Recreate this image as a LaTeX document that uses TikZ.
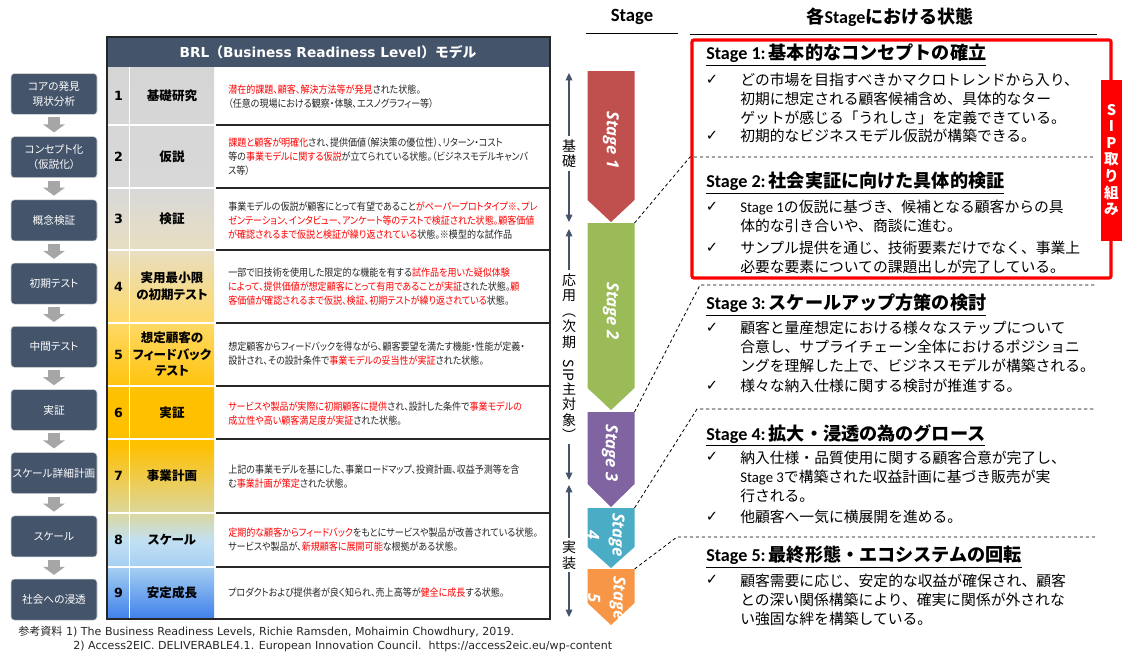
\documentclass[tikz,border=0pt]{standalone}
\usepackage{fontspec}
\usetikzlibrary{arrows.meta}
\newfontfamily\jp{Noto Sans CJK JP}
\newfontfamily\jpp{Noto Sans CJK JP}[RawFeature=+palt]
\newfontfamily\jpn{Noto Sans CJK JP}[RawFeature=+palt, FakeStretch=0.88]
\newfontfamily\calib{Carlito}
\newfontfamily\opens{Open Sans}
\newfontfamily\dejavu{DejaVu Sans}
\definecolor{slate}{HTML}{44546A}
\definecolor{arrowgray}{HTML}{A6A6A6}
\definecolor{stgA}{HTML}{C0504D}
\definecolor{stgB}{HTML}{9BBB59}
\definecolor{stgC}{HTML}{8064A2}
\definecolor{stgD}{HTML}{4BACC6}
\definecolor{stgE}{HTML}{F79646}
\definecolor{sipred}{HTML}{FF0000}
\definecolor{txt}{HTML}{262626}
\definecolor{gr1}{HTML}{D5D5D5}
\definecolor{gr2}{HTML}{D8D8D8}
\definecolor{gr3}{HTML}{E8DEC2}
\definecolor{gr4}{HTML}{FFD966}
\definecolor{gr5}{HTML}{FFC000}
\definecolor{gr6}{HTML}{DCD79E}
\definecolor{gr7}{HTML}{C2E0F2}
\definecolor{gr8}{HTML}{A6CFF2}
\definecolor{gr9}{HTML}{3F80EA}
\newcommand\rd[1]{\textcolor{sipred}{#1}}

\tikzset{
  phasebox/.style={draw=gray!35, fill=slate, rounded corners=2.5pt, text=white,
    minimum width=64.5pt, minimum height=30.75pt, align=center, inner sep=1pt,
    font=\jpp\fontsize{8}{11}\selectfont},
  grayarrow/.style={line width=9pt, draw=arrowgray,
    -{Triangle[width=16pt,length=6pt]}, shorten <=2pt, shorten >=3pt},
  numlbl/.style={font=\dejavu\bfseries\fontsize{9.5}{11}\selectfont, inner sep=0},
  namelbl/.style={font=\jpp\bfseries\fontsize{9.4}{12.4}\selectfont, align=center, inner sep=0},
  desc/.style={anchor=west, align=left, inner sep=0, text=txt,
    font=\jpn\fontsize{7.7}{10.5}\selectfont},
  stagetxt/.style={text=white, rotate=-90, align=center, inner sep=0,
    font=\opens\bfseries\itshape\fontsize{12.5}{19}\selectfont},
  phaselbl/.style={align=center, inner sep=2pt, font=\jp\fontsize{10.5}{11.6}\selectfont},
  bracketarr/.style={draw=slate, line width=0.9pt, -{Triangle[width=5pt,length=5.5pt]}},
  sepline/.style={dashed, dash pattern=on 2.5pt off 2pt, line width=0.6pt},
  stagehead/.style={anchor=west, inner sep=0, font=\fontsize{13.6}{16}\selectfont},
  chk/.style={inner sep=0, font=\dejavu\fontsize{11}{12}\selectfont},
  bul/.style={anchor=west, align=left, inner sep=0, font=\jp\fontsize{11.1}{14.25}\selectfont},
  refline/.style={anchor=west, inner sep=0, text=txt, font=\dejavu\fontsize{8.3}{10}\selectfont}
}

\begin{document}
\begin{tikzpicture}[x=0.75pt,y=-0.75pt]
  \useasboundingbox (0,0) rectangle (1124,657);
  \fill[white] (0,0) rectangle (1124,657);

  % left phases
  \foreach \i/\t in {1/{コアの発見\\現状分析}, 2/{コンセプト化\\（仮説化）}, 3/概念検証,
      4/初期テスト, 5/中間テスト, 6/実証, 7/スケール詳細計画, 8/スケール, 9/社会への浸透} {
    \node[phasebox] (p\i) at (54,{94+63.2*(\i-1)}) {\t};
  }
  \foreach \i [count=\j from 2] in {1,...,8} {
    \draw[grayarrow] (p\i) -- (p\j);
  }

  % BRL table
  \fill[slate] (107,37) rectangle (550,67);
  \node[text=white, font=\dejavu\bfseries\fontsize{10.3}{12}\selectfont] (brl) at (328,52)
    {BRL{\jp （}Business Readiness Level{\jp ）モデル}};
  \foreach \ya/\yb/\ca/\cb in {67/188/gr1/gr2, 188/250/gr2/gr3, 250/323/gr3/gr4,
      323/395/gr4/gr5, 395/445/gr5/gr5, 445/513/gr5/gr6, 513/540/gr6/gr7,
      540/567/gr7/gr8, 567/619/gr8/gr9} {
    \shade[top color=\ca, bottom color=\cb] (108,\ya) rectangle (214,\yb);
  }
  \draw[white, line width=1.2pt] (129.5,67) -- (129.5,619);
  \foreach \y in {125,188,250,323,386,439,513,567} {
    \draw[white, line width=1.2pt] (108,\y) -- (214,\y);
    \draw[black!85, line width=0.9pt] (216,\y) -- (550,\y);
  }
  \draw[black!85, line width=0.9pt] (107,37) rectangle (550,619);

  \foreach \n/\yc/\nm in {1/96/基礎研究, 2/156.5/仮説, 3/219/検証, 4/286.5/{実用最小限\\の初期テスト},
      5/354.5/{想定顧客の\\フィードバック\\テスト}, 6/412.5/実証, 7/476/事業計画, 8/540/スケール, 9/593/安定成長} {
    \node[numlbl] (n\n) at (118.5,\yc) {\n};
    \node[namelbl] (m\n) at (172,\yc) {\nm};
  }

  \node[desc] (d1) at (228,96.5) {\rd{潜在的課題、顧客、解決方法等が発見}された状態。\\（任意の現場における観察・体験、エスノグラフィー等）};
  \node[desc] (d2) at (228,157) {\rd{課題と顧客が明確化}され、提供価値（解決策の優位性）、リターン・コスト\\等の\rd{事業モデルに関する仮説}が立てられている状態。（ビジネスモデルキャンバ\\ス等）};
  \node[desc] (d3) at (228,221) {事業モデルの仮説が顧客にとって有望であること\rd{がペーパープロトタイプ※、プレ}\\\rd{ゼンテーション、インタビュー、アンケート等のテストで検証された状態。顧客価値}\\\rd{が確認されるまで仮説と検証が繰り返されている}状態。※模型的な試作品};
  \node[desc] (d4) at (228,287) {一部で旧技術を使用した限定的な機能を有する\rd{試作品を用いた疑似体験}\\\rd{によって、提供価値が想定顧客にとって有用であることが実証}された状態。\rd{顧}\\\rd{客価値が確認されるまで仮説、検証、初期テストが繰り返されている}状態。};
  \node[desc] (d5) at (228,354) {想定顧客からフィードバックを得ながら、顧客要望を満たす機能・性能が定義・\\設計され、その設計条件で\rd{事業モデルの妥当性が実証}された状態。};
  \node[desc] (d6) at (228,414) {\rd{サービスや製品が実際に初期顧客に提供}され、設計した条件で\rd{事業モデルの}\\\rd{成立性や高い顧客満足度が実証}された状態。};
  \node[desc] (d7) at (228,477) {上記の事業モデルを基にした、事業ロードマップ、投資計画、収益予測等を含\\む\rd{事業計画が策定}された状態。};
  \node[desc] (d8) at (228,540) {\rd{定期的な顧客からフィードバック}をもとにサービスや製品が改善されている状態。\\サービスや製品が、\rd{新規顧客に展開可能}な根拠がある状態。};
  \node[desc] (d9) at (228,593) {プロダクトおよび提供者が良く知られ、売上高等が\rd{健全に成長}する状態。};

  % phase brackets
  \coordinate (kisoT) at (569,73);   \coordinate (kisoB) at (569,222);
  \coordinate (ouyoT) at (569,229);  \coordinate (ouyoB) at (569,480);
  \coordinate (jissT) at (569,485);  \coordinate (jissB) at (569,617);
  \node[phaselbl] (kiso) at (569,153.5) {基\\礎};
  \node[phaselbl] (ouyo) at (569,357) {応\\用\\︵\\次\\期\\[-2pt]\rotatebox{-90}{SIP}\\主\\対\\象\\︶};
  \node[phaselbl] (jiss) at (569,555) {実\\装};
  \foreach \l in {kiso,ouyo,jiss} {
    \draw[bracketarr] (\l) -- (\l T);
    \draw[bracketarr] (\l) -- (\l B);
  }

  % stages
  \node[font=\calib\bfseries\fontsize{14}{16}\selectfont] (stghd) at (632,17) {Stage};
  \draw[line width=0.7pt] (586,33) -- (678,33);
  \fill[stgA] (587.5,71) -- (634.5,71) -- (634.5,200) -- (611,222) -- (587.5,200) -- cycle;
  \fill[stgB] (587.5,223) -- (634.5,223) -- (634.5,388) -- (611,410) -- (587.5,388) -- cycle;
  \fill[stgC] (587.5,412) -- (634.5,412) -- (634.5,484) -- (611,507) -- (587.5,484) -- cycle;
  \fill[stgD] (587.5,508) -- (634.5,508) -- (634.5,547) -- (611,568) -- (587.5,547) -- cycle;
  \fill[stgE] (587.5,569) -- (634.5,569) -- (634.5,603) -- (611,625) -- (587.5,603) -- cycle;
  \node[stagetxt] (st1) at (611,140) {Stage 1};
  \node[stagetxt] (st2) at (611,311) {Stage 2};
  \node[stagetxt] (st3) at (610,453) {Stage 3};
  \node[stagetxt] (st4) at (606,535) {Stage\\4};
  \node[stagetxt] (st5) at (607,598) {Stage\\5};

  % right column
  \node[font=\jp\bfseries\fontsize{13.5}{16}\selectfont] (rhd) at (890,17) {各{\calib Stage}における状態};
  \draw[line width=0.7pt] (690,34) -- (1097,34);
  \draw[sipred, line width=2.4pt, rounded corners=1.5pt] (692,40) rectangle (1111,278);

  \coordinate (s2ne) at (634.5,223); \coordinate (k1) at (690,157); \coordinate (e1) at (1095,157);
  \coordinate (s3ne) at (634.5,412); \coordinate (k2) at (700,285); \coordinate (e2) at (1095,285);
  \coordinate (s4ne) at (634.5,508); \coordinate (k3) at (697,409); \coordinate (e3) at (1095,409);
  \coordinate (s5ne) at (634.5,569); \coordinate (k4) at (677,537); \coordinate (e4) at (1097,537);
  \draw[sepline] (s2ne) -- (k1) -- (e1);
  \draw[sepline] (s3ne) -- (k2) -- (e2);
  \draw[sepline] (s4ne) -- (k3) -- (e3);
  \draw[sepline] (s5ne) -- (k4) -- (e4);

  \node[fill=sipred, text=white, minimum width=15.75pt, minimum height=120.75pt, inner sep=0,
    align=center, font=\jp\bfseries\fontsize{11}{12.4}\selectfont] (sip) at (1111.5,160)
    {S\\I\\P\\取\\り\\組\\み};

  \node[stagehead] (h1) at (706,55) {\underline{\calib\bfseries Stage 1:\,\jp 基本的なコンセプトの確立}};
  \node[chk] (c11) at (712,80) {✓};
  \node[bul] (b11) at (740,98.5) {どの市場を目指すべきかマクロトレンドから入り、\\初期に想定される顧客候補含め、具体的なター\\ゲットが感じる「うれしさ」を定義できている。};
  \node[chk] (c12) at (712,136) {✓};
  \node[bul] (b12) at (740,136) {初期的なビジネスモデル仮説が構築できる。};

  \node[stagehead] (h2) at (706,183) {\underline{\calib\bfseries Stage 2:\,\jp 社会実証に向けた具体的検証}};
  \node[chk] (c21) at (712,207) {✓};
  \node[bul] (b21) at (740,216.5) {{\calib Stage 1}の仮説に基づき、候補となる顧客からの具\\体的な引き合いや、商談に進む。};
  \node[chk] (c22) at (712,248) {✓};
  \node[bul] (b22) at (740,257.5) {サンプル提供を通じ、技術要素だけでなく、事業上\\必要な要素についての課題出しが完了している。};

  \node[stagehead] (h3) at (706,305) {\underline{\calib\bfseries Stage 3:\,\jp スケールアップ方策の検討}};
  \node[chk] (c31) at (712,328) {✓};
  \node[bul] (b31) at (740,346.5) {顧客と量産想定における様々なステップについて\\合意し、サプライチェーン全体におけるポジショニ\\ングを理解した上で、ビジネスモデルが構築される。};
  \node[chk] (c32) at (712,386) {✓};
  \node[bul] (b32) at (740,386) {様々な納入仕様に関する検討が推進する。};

  \node[stagehead] (h4) at (706,435) {\underline{\calib\bfseries Stage 4:\,\jp 拡大・浸透の為のグロース}};
  \node[chk] (c41) at (712,457) {✓};
  \node[bul] (b41) at (740,477) {納入仕様・品質使用に関する顧客合意が完了し、\\{\calib Stage 3}で構築された収益計画に基づき販売が実\\行される。};
  \node[chk] (c42) at (712,517) {✓};
  \node[bul] (b42) at (740,517) {他顧客へ一気に横展開を進める。};

  \node[stagehead] (h5) at (706,557) {\underline{\calib\bfseries Stage 5:\,\jp 最終形態・エコシステムの回転}};
  \node[chk] (c51) at (712,580) {✓};
  \node[bul] (b51) at (740,600) {顧客需要に応じ、安定的な収益が確保され、顧客\\との深い関係構築により、確実に関係が外されな\\い強固な絆を構築している。};

  % references
  \node[refline] (ref1) at (18,632)
    {{\jp\fontsize{8.3}{10}\selectfont 参考資料} 1) The Business Readiness Levels, Richie Ramsden, Mohaimin Chowdhury, 2019.};
  \node[refline] (ref2) at (73,646)
    {2) Access2EIC. DELIVERABLE4.1. European Innovation Council.\ \ https://access2eic.eu/wp-content};
\end{tikzpicture}
\end{document}
